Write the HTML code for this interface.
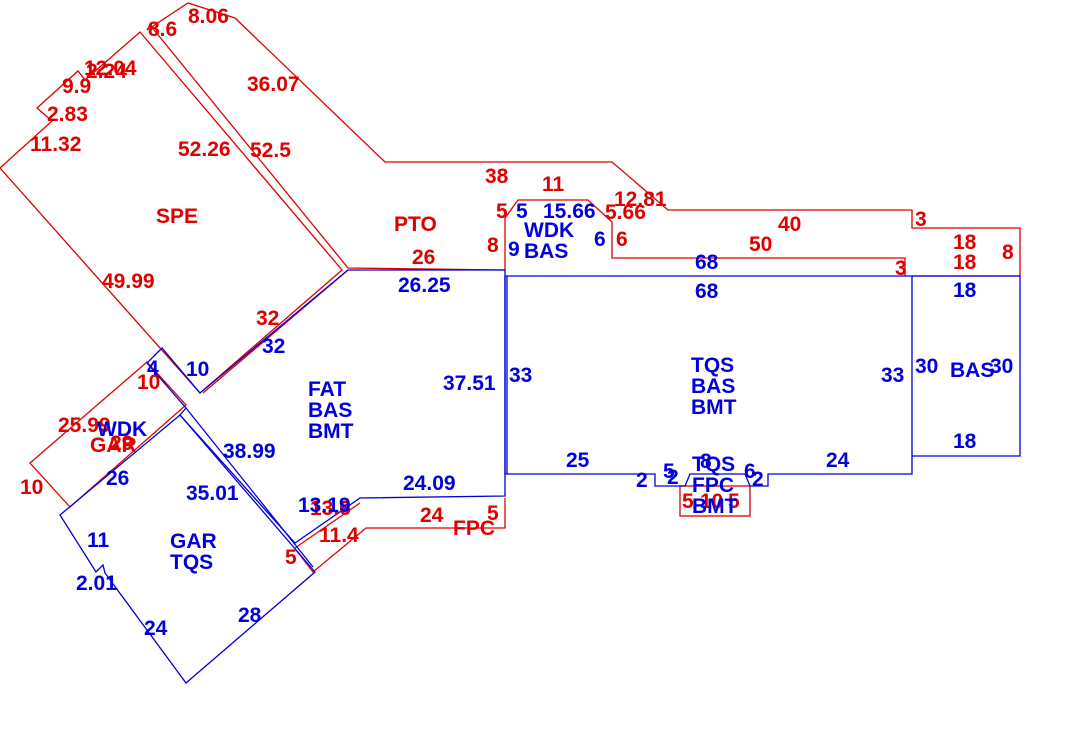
<!DOCTYPE html>
<html><head><meta charset="utf-8"><style>
html,body{margin:0;padding:0;background:#fff;width:1070px;height:733px;overflow:hidden}
svg text{font-family:"Liberation Sans",sans-serif;font-weight:bold;font-size:21px}
.r{fill:#e00000}.b{fill:#0000dd}
</style></head><body>
<svg width="1070" height="733" viewBox="0 0 1070 733" xmlns="http://www.w3.org/2000/svg">
<g fill="none" stroke="#e00000" stroke-width="1.3">
<polygon points="0,168 52,121 37,108 78,71 85,80 140,32 342,270 200,393"/>
<polyline points="147,30 188,3 235,18 385,162 612,162 668,210 912,210 912,228 1020,228 1020,276 912,276"/>
<polyline points="147,30 150,25 348,268 505,270"/>
<polyline points="505,270 505,218 518,200 588,200 612,222 612,258 905,258 905,276"/>
<line x1="348" y1="270" x2="203" y2="393"/>
<polygon points="30,463 147,362 186,405 70,507"/>
<polyline points="295,548 360,503"/>
<polyline points="296,550 313,572 366,528 505,528 505,498"/>
<rect x="680" y="486" width="70" height="30"/>
</g>
<g fill="none" stroke="#0000dd" stroke-width="1.3">
<polyline points="348,270 505,270 505,496 360,498 295,543 180,415"/>
<polyline points="348,270 200,393 162,348 147,363 186,408 180,415"/>
<polygon points="60,515 180,415 315,572 186,683 105,573 103,565 96,572"/>
<line x1="186" y1="408" x2="313" y2="567"/>
<polyline points="505,276 912,276 912,474 768,474 768,486 750,486 745,474 690,474 685,486 662,486 655,486 655,474 505,474 505,276"/>
<polyline points="912,276 1020,276 1020,456 912,456"/>
<line x1="507" y1="276" x2="507" y2="474"/>
</g>
<g class="r">
<text x="148" y="36">8.6</text><text x="188" y="23">8.06</text>
<text x="84" y="75">12.04</text><text x="86" y="78">2.24</text>
<text x="62" y="93">9.9</text><text x="47" y="121">2.83</text>
<text x="30" y="151">11.32</text><text x="247" y="91">36.07</text>
<text x="178" y="156">52.26</text><text x="250" y="157">52.5</text>
<text x="156" y="223">SPE</text><text x="102" y="288">49.99</text>
<text x="256" y="325">32</text><text x="394" y="231">PTO</text>
<text x="412" y="264">26</text><text x="485" y="183">38</text>
<text x="542" y="191">11</text><text x="496" y="218">5</text>
<text x="487" y="252">8</text><text x="605" y="219">5.66</text>
<text x="614" y="206">12.81</text><text x="616" y="246">6</text>
<text x="778" y="231">40</text><text x="749" y="251">50</text>
<text x="915" y="226">3</text><text x="895" y="275">3</text>
<text x="953" y="249">18</text><text x="953" y="269">18</text>
<text x="1002" y="259">8</text>
<text x="137" y="389">10</text><text x="58" y="432">25.99</text>
<text x="90" y="452">GAR</text><text x="110" y="450">29</text>
<text x="20" y="494">10</text><text x="310" y="515">13.6</text>
<text x="319" y="542">11.4</text><text x="420" y="522">24</text>
<text x="487" y="520">5</text><text x="453" y="535">FPC</text>
<text x="285" y="564">5</text><text x="682" y="508">5</text><text x="700" y="508">10</text><text x="728" y="508">5</text>
</g>
<g class="b">
<text x="516" y="218">5</text><text x="543" y="218">15.66</text>
<text x="524" y="237">WDK</text><text x="524" y="258">BAS</text>
<text x="508" y="256">9</text><text x="594" y="246">6</text>
<text x="695" y="269">68</text><text x="695" y="298">68</text>
<text x="398" y="292">26.25</text><text x="262" y="353">32</text>
<text x="186" y="376">10</text><text x="147" y="375">4</text>
<text x="97" y="436">WDK</text>
<text x="308" y="396">FAT</text><text x="308" y="417">BAS</text><text x="308" y="438">BMT</text>
<text x="443" y="390">37.51</text><text x="509" y="382">33</text>
<text x="223" y="458">38.99</text><text x="186" y="500">35.01</text>
<text x="106" y="485">26</text><text x="298" y="512">13.19</text>
<text x="403" y="490">24.09</text>
<text x="87" y="547">11</text><text x="170" y="548">GAR</text><text x="170" y="569">TQS</text>
<text x="76" y="590">2.01</text><text x="144" y="635">24</text><text x="238" y="622">28</text>
<text x="691" y="372">TQS</text><text x="691" y="393">BAS</text><text x="691" y="414">BMT</text>
<text x="881" y="382">33</text><text x="915" y="373">30</text><text x="950" y="377">BAS</text><text x="990" y="373">30</text>
<text x="953" y="297">18</text><text x="953" y="448">18</text>
<text x="566" y="467">25</text><text x="826" y="467">24</text>
<text x="636" y="487">2</text><text x="663" y="478">5</text><text x="667" y="484">2</text>
<text x="692" y="471">TQS</text><text x="700" y="468">8</text><text x="692" y="492">FPC</text><text x="692" y="513">BMT</text>
<text x="744" y="478">6</text><text x="752" y="486">2</text>
</g>
</svg>
</body></html>
